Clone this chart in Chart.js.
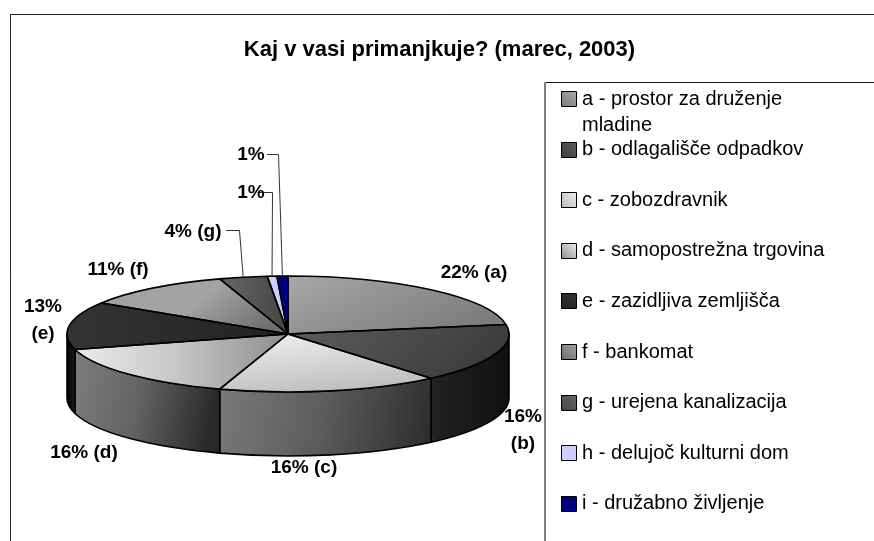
<!DOCTYPE html>
<html><head><meta charset="utf-8">
<style>html,body{margin:0;padding:0;background:#fff;overflow:hidden}#w{position:relative;width:874px;height:541px}</style>
<script src="https://cdn.jsdelivr.net/npm/chart.js@4"></script>
</head><body><div id="w"><canvas id="c"></canvas></div>
<script>
const titleText = 'Kaj v vasi primanjkuje? (marec, 2003)';
const categories = [
  ['a - prostor za druženje','mladine'],
  ['b - odlagališče odpadkov'],
  ['c - zobozdravnik'],
  ['d - samopostrežna trgovina'],
  ['e - zazidljiva zemljišča'],
  ['f - bankomat'],
  ['g - urejena kanalizacija'],
  ['h - delujoč kulturni dom'],
  ['i - družabno življenje']
];
const shares = [22.4, 16.4, 16.2, 15.7, 13.3, 11.0, 3.5, 0.7, 0.8];
const valueLabels = [['22% (a)'],['16%','(b)'],['16% (c)'],['16% (d)'],['13%','(e)'],['11% (f)'],['4% (g)'],['1%'],['1%']];

// styles and layout (not data)
const labelAnchors = [[474,273],[523,417],[304,468],[84,453],[43,307],[118,270],[193,232],[251,193],[251,155]];
const leaders = {6:[[226,230],[239,230]], 7:[[259,192],[272,192]], 8:[[267,154],[278,154]]};
const leaderOrder = {7:8, 8:7}; 
const PIE = {x:288, y:334, rx:221, ry:58, depth:64};
const faces = [
 [0,0,1,.6,['#a8a8a8','#7c7c7c']],
 [0,0,1,.3,['#5e5e5e','#3c3c3c']],
 [.3,0,.7,1,['#ececec','#bcbcbc']],
 [0,0,1,0,['#ececec','#c4c4c4','#8e8e8e']],
 [0,0,1,0,['#343434','#222222']],
 [0,.3,1,.6,['#a2a2a2','#a4a4a4','#6e6e6e']],
 [0,0,1,0,['#686868','#444444']],
 [0,0,1,0,['#ccccff','#ccccff']],
 [0,0,1,0,['#000080','#000080']]
];
const walls = [
 [0,0,1,0,['#111','#111']],
 [0,0,1,0,['#222222','#101010']],
 [0,0,1,.6,['#7a7a7a','#5c5c5c','#2e2e2e']],
 [0,0,1,.3,['#7e7e7e','#626262','#2a2a2a']],
 [0,0,1,0,['#000000','#1e1e1e']],
];
const LEG = {boxX:561, textX:582, y0:99, step:50.6, size:15, lineGap:26};

function grad(ctx, spec, b){
  const g = ctx.createLinearGradient(b.x+spec[0]*b.w, b.y+spec[1]*b.h, b.x+spec[2]*b.w, b.y+spec[3]*b.h);
  const st = spec[4];
  st.forEach((c,i)=>g.addColorStop(i/(st.length-1), c));
  return g;
}
function bboxOf(fn, s, e, extra){
  let x0=1e9,y0=1e9,x1=-1e9,y1=-1e9;
  const pts=[[fn(0,true)]];
  for(let i=0;i<=40;i++){const p=fn(s+(e-s)*i/40);x0=Math.min(x0,p[0]);x1=Math.max(x1,p[0]);y0=Math.min(y0,p[1]);y1=Math.max(y1,p[1]);}
  if(extra){extra.forEach(p=>{x0=Math.min(x0,p[0]);x1=Math.max(x1,p[0]);y0=Math.min(y0,p[1]);y1=Math.max(y1,p[1]);});}
  return {x:x0,y:y0,w:Math.max(x1-x0,1),h:Math.max(y1-y0,1)};
}
const rim = t=>[PIE.x+PIE.rx*Math.cos(t), PIE.y+PIE.ry*Math.sin(t)];
function fullArea(chart){const a=chart.chartArea;return {cx:(a.left+a.right)/2,cy:(a.top+a.bottom)/2,r:Math.min(a.width,a.height)/2};}

const faceFill = (context)=>{
  const chart=context.chart, i=context.dataIndex;
  if(!chart.chartArea) return faces[i][4][0];
  const total=shares.reduce((a,b)=>a+b,0);
  let acc=0; for(let k=0;k<i;k++) acc+=shares[k];
  const s=-Math.PI/2+acc/total*2*Math.PI, e=s+shares[i]/total*2*Math.PI;
  const b=bboxOf(rim,s,e,[[PIE.x,PIE.y]]);
  const {cx,cy,r}=fullArea(chart);
  const m={x:cx+(b.x-PIE.x)*r/PIE.rx, y:cy+(b.y-PIE.y)*r/PIE.ry, w:b.w*r/PIE.rx, h:b.h*r/PIE.ry};
  return grad(chart.ctx, faces[i], m);
};

const pie3d = {
  id:'pie3d',
  beforeDraw(chart){
    const c=chart.ctx; c.save();
    c.fillStyle='#fff'; c.fillRect(0,0,chart.width,chart.height);
    c.strokeStyle='#222'; c.lineWidth=1;
    c.beginPath(); c.moveTo(10.5,541); c.lineTo(10.5,14.5); c.lineTo(874,14.5); c.stroke();
    c.strokeStyle='#111';
    c.beginPath(); c.moveTo(545,82.5); c.lineTo(874,82.5); c.stroke();
    c.strokeStyle='#808080'; c.lineWidth=2;
    c.beginPath(); c.moveTo(545,82); c.lineTo(545,541); c.stroke();
    c.restore();
  },
  beforeDatasetsDraw(chart){
    const c=chart.ctx, arcs=chart.getDatasetMeta(0).data;
    c.save();
    arcs.forEach((a,i)=>{
      const s=Math.max(a.startAngle,0), e=Math.min(a.endAngle,Math.PI);
      if(e<=s) return;
      const spec=walls[i]; const b=bboxOf(rim,s,e); b.h+=PIE.depth;
      c.beginPath();
      c.ellipse(PIE.x,PIE.y,PIE.rx,PIE.ry,0,s,e);
      c.ellipse(PIE.x,PIE.y+PIE.depth,PIE.rx,PIE.ry,0,e,s,true);
      c.closePath();
      c.fillStyle=grad(c,spec,b); c.fill();
      c.strokeStyle='#000'; c.lineWidth=1.6; c.lineJoin='round'; c.stroke();
    });
    c.restore();
    const {cx,cy,r}=fullArea(chart);
    c.save();
    c.translate(PIE.x,PIE.y); c.scale(PIE.rx/r,PIE.ry/r); c.translate(-cx,-cy);
  },
  afterDatasetsDraw(chart){
    const c=chart.ctx, arcs=chart.getDatasetMeta(0).data;
    c.restore();
    c.save();
    c.strokeStyle='#000'; c.lineWidth=1.6; c.lineJoin='round';
    arcs.forEach(a=>{
      c.beginPath(); c.moveTo(PIE.x,PIE.y);
      c.ellipse(PIE.x,PIE.y,PIE.rx,PIE.ry,0,a.startAngle,a.endAngle);
      c.closePath(); c.stroke();
    });
    // leader lines
    c.strokeStyle='#333'; c.lineWidth=1;
    Object.keys(leaders).forEach(k=>{
      const i=+k, pts=leaders[k], a=arcs[i], t=(a.startAngle+a.endAngle)/2, p=rim(t);
      c.beginPath(); c.moveTo(pts[0][0],pts[0][1]+.5); c.lineTo(pts[1][0]+.5,pts[1][1]+.5); c.lineTo(p[0],p[1]); c.stroke();
    });
    // value labels
    c.fillStyle='#000'; c.font='bold 19px "Liberation Sans"'; c.textAlign='center'; c.textBaseline='middle';
    valueLabels.forEach((ls,i)=>{
      ls.forEach((t,j)=>c.fillText(t,labelAnchors[i][0],labelAnchors[i][1]+j*27));
    });
    // legend
    c.textAlign='left'; c.font='20px "Liberation Sans"';
    categories.forEach((ls,i)=>{
      const y=LEG.y0+i*LEG.step, bx=LEG.boxX, by=Math.round(y-LEG.size/2-.5);
      const b={x:bx,y:by,w:LEG.size,h:LEG.size};
      c.fillStyle=grad(c,[0,1,1,0,[faces[i][4][faces[i][4].length-1],faces[i][4][0]]],b);
      c.fillRect(bx,by,LEG.size,LEG.size);
      c.strokeStyle='#000'; c.lineWidth=1; c.strokeRect(bx+.5,by+.5,LEG.size,LEG.size);
      c.fillStyle='#000';
      ls.forEach((t,j)=>c.fillText(t,LEG.textX,y+j*LEG.lineGap));
    });
    c.restore();
  }
};

new Chart(document.getElementById('c'),{
  type:'pie',
  data:{labels:categories.map(l=>l.join(' ')),datasets:[{data:shares,backgroundColor:faceFill,borderWidth:0,clip:false}]},
  plugins:[pie3d],
  options:{
    responsive:true,maintainAspectRatio:false,animation:false,events:[],
    layout:{padding:{left:5}},
    plugins:{
      legend:{display:false},tooltip:{enabled:false},
      title:{display:true,text:titleText,color:'#000',font:{family:'"Liberation Sans"',size:22,weight:'bold',lineHeight:1.2},padding:{top:37,bottom:10}}
    }
  }
});
</script></body></html>
